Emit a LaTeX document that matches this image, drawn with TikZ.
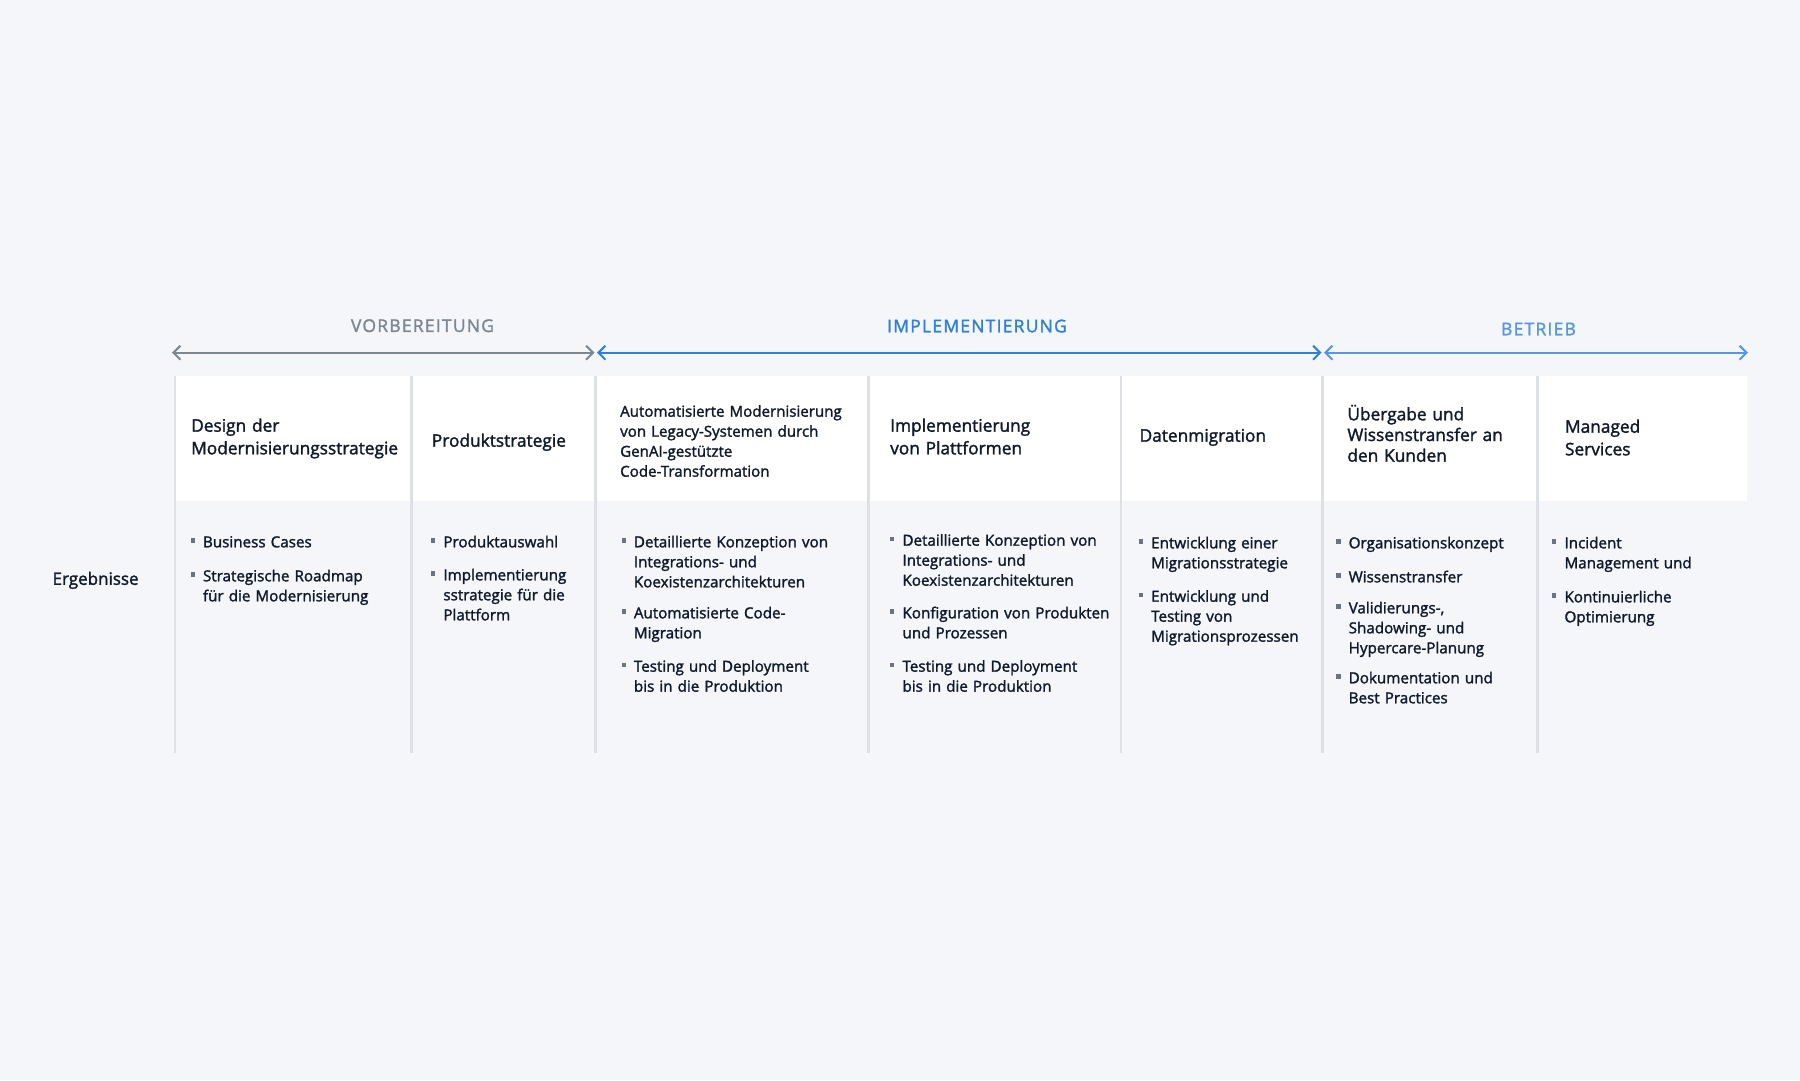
\documentclass[tikz,border=0pt]{standalone}
\usepackage{fontspec}
\setmainfont{Open Sans}[FakeBold=1.7]
\newfontfamily\phasefont{Open Sans}[FakeBold=1.7,LetterSpace=7]
\usetikzlibrary{arrows.meta,calc}
\definecolor{bgc}{HTML}{F4F6FA}
\definecolor{divc}{HTML}{DDE0E5}
\definecolor{txtc}{HTML}{101A2B}
\definecolor{grayph}{HTML}{7D8792}
\definecolor{blueph}{HTML}{2F80DC}
\definecolor{lblueph}{HTML}{5597E4}
\definecolor{bulc}{HTML}{6B7380}
\tikzset{
  hdr/.style={anchor=base west, inner sep=0pt, text width=260pt, align=left, text=txtc, font=\fontsize{17.3}{22.6}\selectfont},
  hdrsmall/.style={hdr, font=\fontsize{15.1}{20}\selectfont},
  itemtext/.style={anchor=base west, inner sep=0pt, text width=240pt, align=left, text=txtc, font=\fontsize{15.2}{20}\selectfont},
  bulletsq/.style={fill=bulc, minimum size=4.3pt, inner sep=0pt, draw=none},
  phase/.style={anchor=center, inner sep=0pt, font=\phasefont\fontsize{17.5}{20}\selectfont},
  divline/.style={draw=divc, line width=2.5pt},
  phasearrow/.style={line width=2pt, {Straight Barb[length=7pt,width=14pt,line width=2pt]}-{Straight Barb[length=7pt,width=14pt,line width=2pt]}}
}
\newcommand\myitem[4]{%
  \node[itemtext] (#1) at (#2,#3) {#4};
  \node[bulletsq] (#1b) at ($(#1.base west)+(-10,-6.8)$) {};
}
\begin{document}
\begin{tikzpicture}[x=1pt,y=-1pt]
\useasboundingbox (0,0) rectangle (1800,1080);
\fill[bgc] (0,0) rectangle (1800,1080);
% header band
\fill[white] (174.5,376) rectangle (1747,500.7);
% column dividers
\foreach \xx [count=\i] in {175,411.5,595.5,868.5,1121,1322.5,1537.5}{
  \coordinate (dt\i) at (\xx,376);
  \coordinate (db\i) at (\xx,753);
  \draw[divline] (dt\i) -- (db\i);
}
% phase arrows
\coordinate (a1) at (172,352.7);
\coordinate (a2) at (594.5,352.7);
\coordinate (a3) at (597,352.7);
\coordinate (a4) at (1321.5,352.7);
\coordinate (a5) at (1324,352.7);
\coordinate (a6) at (1748,352.7);
\draw[phasearrow, grayph] (a1) -- (a2);
\draw[phasearrow, blueph] (a3) -- (a4);
\draw[phasearrow, lblueph] (a5) -- (a6);
% phase labels
\node[phase, text=grayph] (pv) at (422.5,325.7) {VORBEREITUNG};
\node[phase, text=blueph] (pi) at (977,326) {IMPLEMENTIERUNG};
\node[phase, text=lblueph] (pb) at (1538.5,329) {BETRIEB};
% row label
\node[anchor=base west, inner sep=0pt, text=txtc, font=\fontsize{17}{18}\selectfont] (erg) at (52.4,584.8) {Ergebnisse};
% headers
\node[hdr] (h1) at (191,431.7) {Design der\\Modernisierungsstrategie};
\node[hdr] (h2) at (431.7,446.7) {Produktstrategie};
\node[hdrsmall] (h3) at (620,416.7) {Automatisierte Modernisierung\\von Legacy-Systemen durch\\GenAI-gestützte\\Code-Transformation};
\node[hdr] (h4) at (890,431.7) {Implementierung\\von Plattformen};
\node[hdr] (h5) at (1139.4,441.7) {Datenmigration};
\node[hdr, font=\fontsize{17.3}{20.7}\selectfont] (h6) at (1347.2,420.3) {Übergabe und\\Wissenstransfer an\\den Kunden};
\node[hdr] (h7) at (1564.8,432.7) {Managed\\Services};
% items column 1
\myitem{i11}{202.8}{547.3}{Business Cases}
\myitem{i12}{202.8}{581.3}{Strategische Roadmap\\für die Modernisierung}
% column 2
\myitem{i21}{443.2}{547.3}{Produktauswahl}
\myitem{i22}{443.2}{580.3}{Implementierung\\sstrategie für die\\Plattform}
% column 3
\myitem{i31}{633.7}{547.3}{Detaillierte Konzeption von\\Integrations- und\\Koexistenzarchitekturen}
\myitem{i32}{633.7}{618.3}{Automatisierte Code-\\Migration}
\myitem{i33}{633.7}{671.7}{Testing und Deployment\\bis in die Produktion}
% column 4
\myitem{i41}{902.3}{545.7}{Detaillierte Konzeption von\\Integrations- und\\Koexistenzarchitekturen}
\myitem{i42}{902.3}{618.3}{Konfiguration von Produkten\\und Prozessen}
\myitem{i43}{902.3}{671.7}{Testing und Deployment\\bis in die Produktion}
% column 5
\myitem{i51}{1151}{548.3}{Entwicklung einer\\Migrationsstrategie}
\myitem{i52}{1151}{601.7}{Entwicklung und\\Testing von\\Migrationsprozessen}
% column 6
\myitem{i61}{1348.5}{548.3}{Organisationskonzept}
\myitem{i62}{1348.5}{582.3}{Wissenstransfer}
\myitem{i63}{1348.5}{613.3}{Validierungs-,\\Shadowing- und\\Hypercare-Planung}
\myitem{i64}{1348.5}{683.3}{Dokumentation und\\Best Practices}
% column 7
\myitem{i71}{1564.3}{548.3}{Incident\\Management und}
\myitem{i72}{1564.3}{602.3}{Kontinuierliche\\Optimierung}
\end{tikzpicture}
\end{document}
